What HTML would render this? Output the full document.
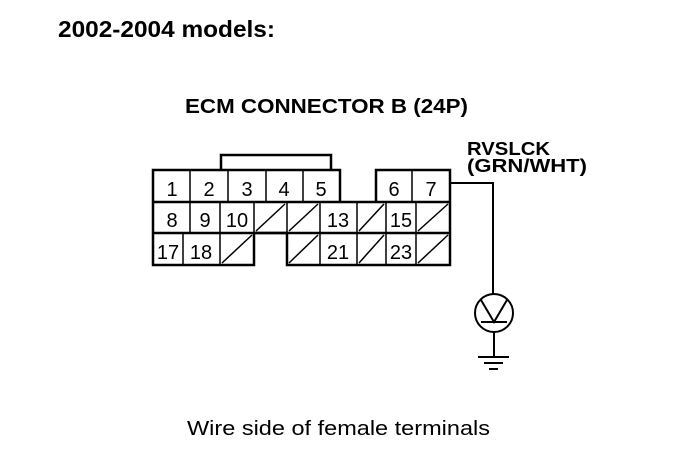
<!DOCTYPE html>
<html><head><style>body{margin:0;background:#fff}svg{display:block}</style></head><body>
<svg width="688" height="460" xmlns="http://www.w3.org/2000/svg" font-family="Liberation Sans, sans-serif">
<rect width="688" height="460" fill="#fff"/>
<text x="58" y="37" font-size="23" font-weight="bold" textLength="217" lengthAdjust="spacingAndGlyphs">2002-2004 models:</text>
<text x="185" y="113" font-size="20" font-weight="bold" textLength="283" lengthAdjust="spacingAndGlyphs">ECM CONNECTOR B (24P)</text>
<text x="467" y="155" font-size="18" font-weight="bold" textLength="83" lengthAdjust="spacingAndGlyphs">RVSLCK</text>
<text x="467" y="172" font-size="18" font-weight="bold" textLength="120" lengthAdjust="spacingAndGlyphs">(GRN/WHT)</text>
<text x="187" y="435" font-size="20" textLength="303" lengthAdjust="spacingAndGlyphs">Wire side of female terminals</text>
<g fill="none" stroke="#000" stroke-width="2.5">
<polyline points="221,170 221,155 331,155 331,170"/>
<polyline points="340,202 340,170 153,170 153,265 254,265 254,233 287,233 287,265 450,265 450,170 376,170 376,202"/>
<line x1="153" y1="202" x2="450" y2="202"/>
<line x1="153" y1="233" x2="450" y2="233"/>
</g>
<g stroke="#000" stroke-width="1.5">
<line x1="190" y1="170" x2="190" y2="202"/><line x1="228" y1="170" x2="228" y2="202"/><line x1="266" y1="170" x2="266" y2="202"/><line x1="303" y1="170" x2="303" y2="202"/><line x1="412" y1="170" x2="412" y2="202"/>
<line x1="190" y1="202" x2="190" y2="233"/><line x1="220" y1="202" x2="220" y2="265"/><line x1="254" y1="202" x2="254" y2="233"/><line x1="287" y1="202" x2="287" y2="233"/><line x1="320" y1="202" x2="320" y2="265"/><line x1="357" y1="202" x2="357" y2="265"/><line x1="386" y1="202" x2="386" y2="265"/><line x1="416" y1="202" x2="416" y2="265"/>
<line x1="183" y1="233" x2="183" y2="265"/>
<line x1="256" y1="231" x2="285" y2="204"/><line x1="289" y1="231" x2="318" y2="204"/><line x1="359" y1="231" x2="384" y2="204"/><line x1="418" y1="231" x2="448" y2="204"/>
<line x1="222" y1="263" x2="252" y2="235"/><line x1="289" y1="263" x2="318" y2="235"/><line x1="359" y1="263" x2="384" y2="235"/><line x1="418" y1="263" x2="448" y2="235"/>
</g>
<g font-size="20" text-anchor="middle">
<text x="172" y="196">1</text><text x="209" y="196">2</text><text x="247" y="196">3</text><text x="284" y="196">4</text><text x="321" y="196">5</text><text x="394" y="196">6</text><text x="431" y="196">7</text>
<text x="172" y="227">8</text><text x="205" y="227">9</text><text x="237" y="227">10</text><text x="338" y="227">13</text><text x="401" y="227">15</text>
<text x="168" y="259">17</text><text x="201" y="259">18</text><text x="338" y="259">21</text><text x="401" y="259">23</text>
</g>
<g fill="none" stroke="#000" stroke-width="2">
<polyline points="450,183 493,183 493,294"/>
<circle cx="494" cy="313" r="19"/>
<polyline points="481,300 494,322 507,300"/>
<line x1="481" y1="322" x2="507" y2="322"/>
<line x1="494" y1="332" x2="494" y2="357"/>
<line x1="478" y1="357" x2="509" y2="357"/>
<line x1="484" y1="363" x2="503" y2="363"/>
<line x1="489" y1="369" x2="498" y2="369"/>
</g>
</svg>
</body></html>
